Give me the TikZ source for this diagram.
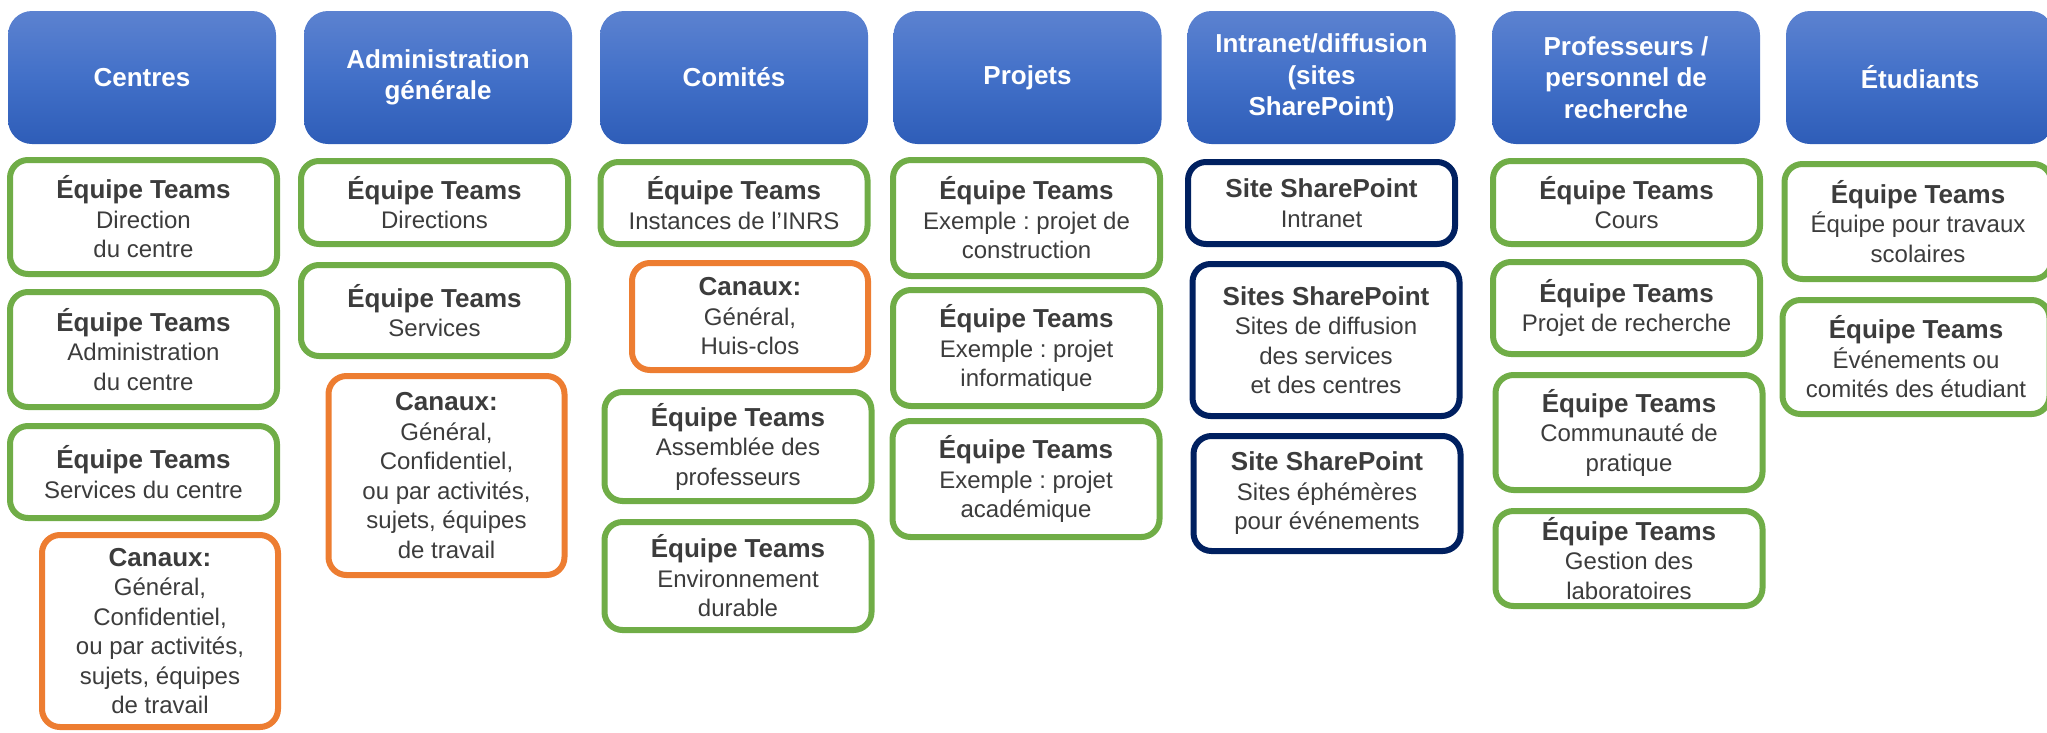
\documentclass[tikz,border=0pt]{standalone}
\usepackage{fontspec}
\setmainfont{Liberation Sans}
\usetikzlibrary{shadings}
\frenchspacing

\definecolor{hdtop}{RGB}{92,130,208}
\definecolor{hdmid}{RGB}{66,112,200}
\definecolor{hdbot}{RGB}{46,93,184}
\definecolor{teamgreen}{RGB}{112,173,71}
\definecolor{chanorange}{RGB}{237,125,49}
\definecolor{sitenavy}{RGB}{0,32,96}
\definecolor{txtgray}{RGB}{60,60,60}

% bold first line of a box
\newcommand{\ttl}[1]{{\fontsize{26}{29.5}\selectfont\bfseries #1}}

\tikzset{
  header/.style={rectangle, rounded corners=24pt, top color=hdtop, bottom color=hdbot, middle color=hdmid,
    text=white, font=\fontsize{26}{31.5}\selectfont\bfseries, align=center,
    minimum width=268pt, minimum height=133pt, inner sep=0pt},
  card/.style={rectangle, rounded corners=18pt, line width=6pt, fill=white, text=txtgray,
    font=\fontsize{24}{29.5}\selectfont, align=center, inner sep=0pt, minimum width=267pt},
  teambox/.style={card, draw=teamgreen},
  chanbox/.style={card, draw=chanorange, minimum width=236pt},
  sitebox/.style={card, draw=sitenavy},
}

\begin{document}
\begin{tikzpicture}[x=1pt,y=-1pt]

\useasboundingbox (0,0) rectangle (2047,732);
\clip (0,0) rectangle (2047,732);

% column heads
\node[header] (hcentres) at (142,77.5) {Centres};
\node[header] (hadmin) at (438,77.5) {Administration\\générale};
\node[header] (hcomites) at (734,77.5) {Comités};
\node[header] (hprojets) at (1027.5,77.5) {Projets};
\node[header] (hintranet) at (1321.5,77.5) {Intranet/diffusion\\(sites\\SharePoint)};
\node[header] (hprof) at (1626,77.5) {Professeurs /\\personnel de\\recherche};
\node[header] (hetud) at (1920,77.5) {Étudiants};

% Centres
\node[teambox, minimum height=114pt] (cdirection) at (143.5,217) {\ttl{Équipe Teams}\\Direction\\du centre};
\node[teambox, minimum height=115pt] (cadmin) at (143.5,349.5) {\ttl{Équipe Teams}\\Administration\\du centre};
\node[teambox, minimum height=92pt] (cservices) at (143.5,472) {\ttl{Équipe Teams}\\Services du centre};
\node[chanbox, minimum height=192pt] (ccanaux) at (160,631) {\ttl{Canaux:}\\Général,\\Confidentiel,\\ou par activités,\\sujets, équipes\\de travail};

% Administration generale
\node[teambox, minimum height=83pt] (adirections) at (434.5,202.5) {\ttl{Équipe Teams}\\Directions};
\node[teambox, minimum height=91pt] (aservices) at (434.5,310.5) {\ttl{Équipe Teams}\\Services};
\node[chanbox, minimum height=199pt] (acanaux) at (446.5,475.5) {\ttl{Canaux:}\\Général,\\Confidentiel,\\ou par activités,\\sujets, équipes\\de travail};

% Comites
\node[teambox, minimum height=82pt] (minstances) at (734,203) {\ttl{Équipe Teams}\\Instances de l’INRS};
\node[chanbox, minimum height=107pt] (mcanaux) at (750,316.5) {\ttl{Canaux:}\\Général,\\Huis-clos};
\node[teambox, minimum height=109pt] (massemblee) at (738,446.5) {\ttl{Équipe Teams}\\Assemblée des\\professeurs};
\node[teambox, minimum height=108pt] (menviro) at (738,576) {\ttl{Équipe Teams}\\Environnement\\durable};

% Projets
\node[teambox, minimum height=116pt] (pconstr) at (1026.5,218) {\ttl{Équipe Teams}\\Exemple : projet de\\construction};
\node[teambox, minimum height=116pt] (pinfo) at (1026.5,348) {\ttl{Équipe Teams}\\Exemple : projet\\informatique};
\node[teambox, minimum height=116pt] (pacad) at (1026,479) {\ttl{Équipe Teams}\\Exemple : projet\\académique};

% Intranet / SharePoint
\node[sitebox, minimum height=82pt] (sintranet) at (1321.5,203) {\ttl{Site SharePoint}\\Intranet};
\node[sitebox, minimum height=152pt] (sdiffusion) at (1326,340) {\ttl{Sites SharePoint}\\Sites de diffusion\\des services\\et des centres};
\node[sitebox, minimum height=115pt] (sephem) at (1327,493.5) {\ttl{Site SharePoint}\\Sites éphémères\\pour événements};

% Professeurs
\node[teambox, minimum height=83pt] (rcours) at (1626.5,202.5) {\ttl{Équipe Teams}\\Cours};
\node[teambox, minimum height=92pt] (rprojet) at (1626.5,308) {\ttl{Équipe Teams}\\Projet de recherche};
\node[teambox, minimum height=115pt] (rcommu) at (1629,432.5) {\ttl{Équipe Teams}\\Communauté de\\pratique};
\node[teambox, minimum height=95pt] (rlabos) at (1629,558.5) {\ttl{Équipe Teams}\\Gestion des\\laboratoires};

% Etudiants
\node[teambox, minimum height=115pt] (etravaux) at (1918,221.5) {\ttl{Équipe Teams}\\Équipe pour travaux\\scolaires};
\node[teambox, minimum height=114pt] (ecomites) at (1916,357) {\ttl{Équipe Teams}\\Événements ou\\comités des étudiant};

\end{tikzpicture}
\end{document}
